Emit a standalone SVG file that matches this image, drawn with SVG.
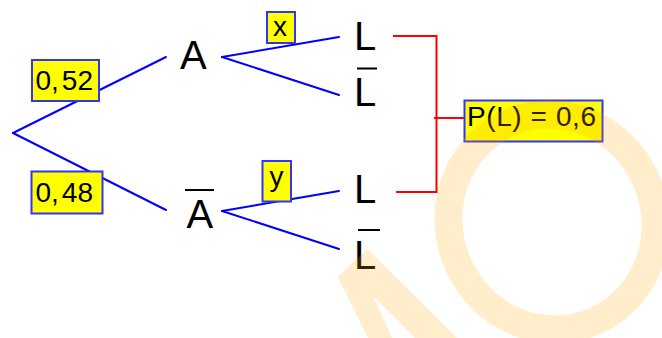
<svg xmlns="http://www.w3.org/2000/svg" width="662" height="338" viewBox="0 0 662 338">
<style>
.t{font-family:"Liberation Sans",Arial,sans-serif;fill:#000}
.big{font-size:40px}
.sm{font-size:28px}
.br{stroke:#0000ff;stroke-width:2;fill:none;stroke-linecap:round}
.rd{stroke:#ff0000;stroke-width:2;fill:none}
.box{fill:#ffff00;stroke:#3333ff;stroke-width:2}
.bar{stroke:#000;stroke-width:2}
.wm{fill:#ffa500;fill-opacity:0.2}
</style>
<rect width="662" height="338" fill="#fff"/>
<g id="connectors">
<line class="br" x1="13" y1="133" x2="166" y2="57"/>
<line class="br" x1="13" y1="133" x2="166" y2="210"/>
<line class="br" x1="222" y1="57" x2="339" y2="37"/>
<line class="br" x1="222" y1="57" x2="339" y2="95"/>
<line class="br" x1="222" y1="211" x2="339" y2="191"/>
<line class="br" x1="222" y1="211" x2="339" y2="249"/>
<polyline class="rd" points="393,36 436.5,36 436.5,192 396,192"/>
<line class="rd" x1="434" y1="118" x2="465" y2="118"/>
</g>
<g id="p052"><rect class="box" x="32" y="60" width="67" height="41"/><text class="t sm" x="35.5" y="90">0,<tspan dx="3">52</tspan></text></g>
<g id="p048"><rect class="box" x="31.5" y="171.5" width="71" height="42"/><text class="t sm" x="35.5" y="201.5">0,<tspan dx="3">48</tspan></text></g>
<g id="nodeA"><text class="t big" x="180" y="69">A</text></g>
<g id="nodeAbar"><line class="bar" x1="185" y1="190" x2="214" y2="190"/><text class="t big" x="186.5" y="227.5">A</text></g>
<g id="px"><rect class="box" x="267" y="12" width="28" height="31"/><text class="t sm" x="273" y="35.5">x</text></g>
<g id="py"><rect class="box" x="262.5" y="161" width="28.5" height="40.5"/><text class="t sm" x="269.5" y="186">y</text></g>
<g id="nodeL1"><text class="t big" x="354" y="50">L</text></g>
<g id="nodeL1bar"><line class="bar" x1="357" y1="68.5" x2="377" y2="68.5"/><text class="t big" x="354" y="106">L</text></g>
<g id="nodeL2"><text class="t big" x="354" y="202.5">L</text></g>
<g id="nodeL2bar"><line class="bar" x1="358" y1="230" x2="380" y2="230"/><text class="t big" x="354" y="268.5">L</text></g>
<g id="result"><rect class="box" x="464.5" y="100.5" width="138" height="41"/><text class="t sm" x="467" y="125.5" textLength="129" lengthAdjust="spacing">P(L) = 0,6</text></g>
<g id="watermark">
<path class="wm" d="M338,277 L367,249 L457,338 L415,338 L373,296 L392,338 L368,338 Z"/>
<ellipse cx="552" cy="222" rx="103" ry="108" transform="rotate(-20 552 222)" fill="none" stroke="#ffa500" stroke-opacity="0.2" stroke-width="28"/>
</g>
</svg>
